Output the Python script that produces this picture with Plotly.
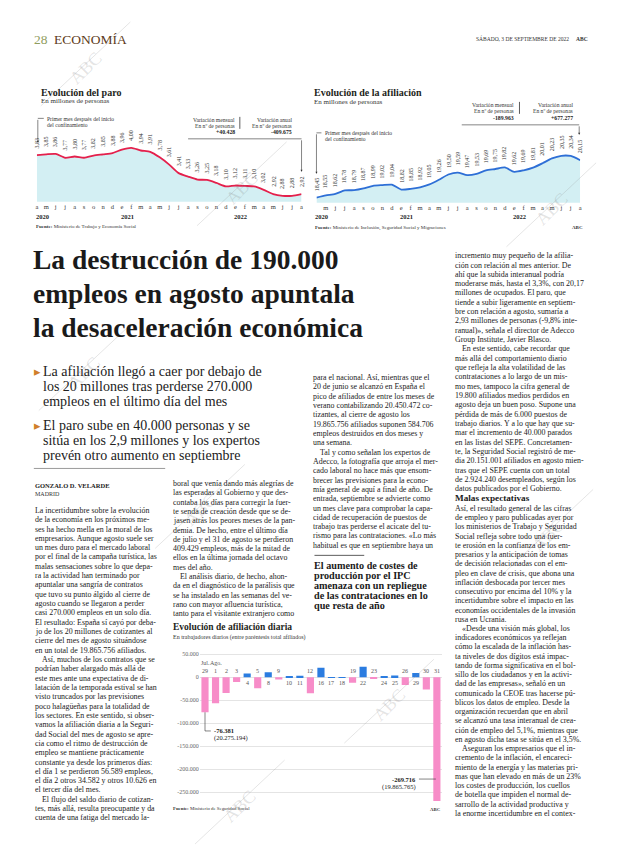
import plotly.graph_objects as go

W, H = 620, 846

# ---------------- DATA ----------------
paro_months = ["a", "m", "j", "j", "a", "s", "o", "n", "d", "e", "f", "m", "a", "m", "j",
               "j", "a", "s", "o", "n", "d", "e", "f", "m", "a", "m", "j", "j", "a"]
paro_values = [3.83, 3.85, 3.86, 3.77, 3.80, 3.77, 3.82, 3.85, 3.88, 3.96, 4.00, 3.94, 3.91,
               3.78, 3.61, 3.41, 3.33, 3.26, 3.25, 3.18, 3.10, 3.12, 3.11, 3.10, 3.02, 2.92,
               2.88, 2.88, 2.92]
afil_months = ["", "m", "j", "j", "a", "s", "o", "n", "d", "e", "f", "m", "a", "m", "j",
               "j", "a", "s", "o", "n", "d", "e", "f", "m", "a", "m", "j", "j", "a"]
afil_values = [18.45, 18.55, 18.62, 18.78, 18.79, 18.87, 18.99, 19.02, 19.04, 18.82, 18.85,
               18.92, 19.05, 19.26, 19.50, 19.59, 19.47, 19.53, 19.69, 19.75, 19.82, 19.62,
               19.69, 19.81, 20.01, 20.23, 20.35, 20.34, 20.15]
year_index = [0, 9, 21]
year_labels = ["2020", "2021", "2022"]

daily_days = ["29", "1", "2", "3", "4", "5", "8", "9", "10", "11", "12", "16", "17", "18",
              "19", "22", "23", "24", "25", "26", "29", "30", "31"]
daily_values = [-76381, -56589, -34582, -10626, 8000, -23900, 10900, -5000, 1500, 3000,
                -34800, 20300, 500, 400, -12300, 22500, -2500, 2000, 3500, -17000, 9000,
                -26800, -269716]
daily_ticks = [50000, 0, -50000, -100000, -150000, -200000, -250000]
daily_ticktext = ["50.000", "0", "-50.000", "-100.000", "-150.000", "-200.000", "-250.000"]

# ---------------- TEXT ----------------
col1 = [
    "La incertidumbre sobre la evolución",
    "de la economía en los próximos me-",
    "ses ha hecho mella en la moral de los",
    "empresarios. Aunque agosto suele ser",
    "un mes duro para el mercado laboral",
    "por el final de la campaña turística, las",
    "malas sensaciones sobre lo que depa-",
    "ra la actividad han terminado por",
    "apuntalar una sangría de contratos",
    "que tuvo su punto álgido al cierre de",
    "agosto cuando se llegaron a perder",
    "casi 270.000 empleos en un solo día.",
    "El resultado: España sí cayó por deba-",
    "jo de los 20 millones de cotizantes al",
    "cierre del mes de agosto situándose",
    "en un total de 19.865.756 afiliados.",
    ">Así, muchos de los contratos que se",
    "podrían haber alargado más allá de",
    "este mes ante una expectativa de di-",
    "latación de la temporada estival se han",
    "visto truncados por las previsiones",
    "poco halagüeñas para la totalidad de",
    "los sectores. En este sentido, si obser-",
    "vamos la afiliación diaria a la Seguri-",
    "dad Social del mes de agosto se apre-",
    "cia como el ritmo de destrucción de",
    "empleo se mantiene prácticamente",
    "constante ya desde los primeros días:",
    "el día 1 se perdieron 56.589 empleos,",
    "el día 2 otros 34.582 y otros 10.626 en",
    "el tercer día del mes.",
    ">El flujo del saldo diario de cotizan-",
    "tes, más allá, resulta preocupante y da",
    "cuenta de una fatiga del mercado la-",
]
col2 = [
    "boral que venía dando más alegrías de",
    "las esperadas al Gobierno y que des-",
    "contaba los días para corregir la fuer-",
    "te senda de creación desde que se de-",
    "jasen atrás los peores meses de la pan-",
    "demia. De hecho, entre el último día",
    "de julio y el 31 de agosto se perdieron",
    "409.429 empleos, más de la mitad de",
    "ellos en la última jornada del octavo",
    "mes del año.",
    ">El análisis diario, de hecho, ahon-",
    "da en el diagnóstico de la parálisis que",
    "se ha instalado en las semanas del ve-",
    "rano con mayor afluencia turística,",
    "tanto para el visitante extranjero como",
]
col3 = [
    "para el nacional. Así, mientras que el",
    "20 de junio se alcanzó en España el",
    "pico de afiliados de entre los meses de",
    "verano contabilizando 20.450.472 co-",
    "tizantes, al cierre de agosto los",
    "19.865.756 afiliados suponen 584.706",
    "empleos destruidos en dos meses y",
    "una semana.",
    ">Tal y como señalan los expertos de",
    "Adecco, la fotografía que arroja el mer-",
    "cado laboral no hace más que ensom-",
    "brecer las previsiones para la econo-",
    "mía general de aquí a final de año. De",
    "entrada, septiembre se advierte como",
    "un mes clave para comprobar la capa-",
    "cidad de recuperación de puestos de",
    "trabajo tras perderse el acicate del tu-",
    "rismo para las contrataciones. «Lo más",
    "habitual es que en septiembre haya un",
]
col4a = [
    "incremento muy pequeño de la afilia-",
    "ción con relación al mes anterior. De",
    "ahí que la subida interanual podría",
    "moderarse más, hasta el 3,3%, con 20,17",
    "millones de ocupados. El paro, que",
    "tiende a subir ligeramente en septiem-",
    "bre con relación a agosto, sumaría a",
    "2,93 millones de personas (-9,8% inte-",
    "ranual)», señala el director de Adecco",
    "Group Institute, Javier Blasco.",
    ">En este sentido, cabe recordar que",
    "más allá del comportamiento diario",
    "que refleja la alta volatilidad de las",
    "contrataciones a lo largo de un mis-",
    "mo mes, tampoco la cifra general de",
    "19.800 afiliados medios perdidos en",
    "agosto deja un buen poso. Supone una",
    "pérdida de más de 6.000 puestos de",
    "trabajo diarios. Y a lo que hay que su-",
    "mar el incremento de 40.000 parados",
    "en las listas del SEPE. Concretamen-",
    "te, la Seguridad Social registró de me-",
    "dia 20.151.001 afiliados en agosto mien-",
    "tras que el SEPE cuenta con un total",
    "de 2.924.240 desempleados, según los",
    "datos publicados por el Gobierno.",
]
col4b = [
    "Así, el resultado general de las cifras",
    "de empleo y paro publicadas ayer por",
    "los ministerios de Trabajo y Seguridad",
    "Social refleja sobre todo una fuer-",
    "te erosión en la confianza de los em-",
    "presarios y la anticipación de tomas",
    "de decisión relacionadas con el em-",
    "pleo en clave de crisis, que abona una",
    "inflación desbocada por tercer mes",
    "consecutivo por encima del 10% y la",
    "incertidumbre sobre el impacto en las",
    "economías occidentales de la invasión",
    "rusa en Ucrania.",
    ">«Desde una visión más global, los",
    "indicadores económicos ya reflejan",
    "cómo la escalada de la inflación has-",
    "ta niveles de dos dígitos está impac-",
    "tando de forma significativa en el bol-",
    "sillo de los ciudadanos y en la activi-",
    "dad de las empresas», señaló en un",
    "comunicado la CEOE tras hacerse pú-",
    "blicos los datos de empleo. Desde la",
    "organización recuerdan que en abril",
    "se alcanzó una tasa interanual de crea-",
    "ción de empleo del 5,1%, mientras que",
    "en agosto dicha tasa se sitúa en el 3,5%.",
    ">Aseguran los empresarios que el in-",
    "cremento de la inflación, el encareci-",
    "miento de la energía y las materias pri-",
    "mas que han elevado en más de un 23%",
    "los costes de producción, los cuellos",
    "de botella que impiden el normal de-",
    "sarrollo de la actividad productiva y",
    "la enorme incertidumbre en el contex-",
]
headline = ["La destrucción de 190.000", "empleos en agosto apuntala",
            "la desaceleración económica"]
sub1 = ["La afiliación llegó a caer por debajo de", "los 20 millones tras perderse 270.000",
        "empleos en el último día del mes"]
sub2 = ["El paro sube en 40.000 personas y se", "sitúa en los 2,9 millones y los expertos",
        "prevén otro aumento en septiembre"]
boxhead = ["El aumento de costes de", "producción por el IPC", "amenaza con un repliegue",
           "de las contrataciones en lo", "que resta de año"]

SERIF = "Liberation Serif, Times New Roman, serif"
INK = "#231f20"

fig = go.Figure()
ann = []
shapes = []


def px(x):
    return x / W


def py(y):
    return 1 - y / H


def txt(x, y, s, size=8, color=INK, xanchor="left", yanchor="middle", family=SERIF, angle=0):
    ann.append(dict(x=px(x), y=py(y), xref="paper", yref="paper", text=s, showarrow=False,
                    xanchor=xanchor, yanchor=yanchor, textangle=angle,
                    font=dict(family=family, size=size, color=color), borderpad=0))


def hline(x0, x1, y, color="#333", w=0.6):
    shapes.append(dict(type="line", xref="paper", yref="paper", x0=px(x0), x1=px(x1),
                       y0=py(y), y1=py(y), line=dict(color=color, width=w)))


def vline(x, y0, y1, color="#333", w=0.6):
    shapes.append(dict(type="line", xref="paper", yref="paper", x0=px(x), x1=px(x),
                       y0=py(y0), y1=py(y1), line=dict(color=color, width=w)))


def arrow_down(x, y0, y1):
    ann.append(dict(x=px(x), y=py(y1), xref="paper", yref="paper", ax=0, ay=-(y1 - y0),
                    axref="pixel", ayref="pixel", text="", showarrow=True, arrowhead=2,
                    arrowsize=0.7, arrowwidth=0.6, arrowcolor="#333"))


# ---------------- CHART 1: PARO ----------------
n1 = len(paro_values)
fig.add_trace(go.Scatter(x=list(range(n1)), y=paro_values, mode="lines", fill="tozeroy",
                         fillcolor="#d3eff3", line=dict(color="#e4204c", width=1.8,
                                                        shape="spline", smoothing=0.6),
                         xaxis="x", yaxis="y", hoverinfo="skip"))
for i, v in enumerate(paro_values):
    ann.append(dict(x=i, y=v, xref="x", yref="y", text=f"{v:.2f}".replace(".", ","),
                    showarrow=False, textangle=-90, yanchor="bottom", xanchor="center",
                    yshift=5, font=dict(family=SERIF, size=6, color="#333")))

# ---------------- CHART 2: AFILIACION ----------------
n2 = len(afil_values)
fig.add_trace(go.Scatter(x=list(range(n2)), y=afil_values, mode="lines", fill="tozeroy",
                         fillcolor="#d3eff3", line=dict(color="#2e6fd6", width=1.8,
                                                        shape="spline", smoothing=0.6),
                         xaxis="x2", yaxis="y2", hoverinfo="skip"))
for i, v in enumerate(afil_values):
    ann.append(dict(x=i, y=v, xref="x2", yref="y2", text=f"{v:.2f}".replace(".", ","),
                    showarrow=False, textangle=-90, yanchor="bottom", xanchor="center",
                    yshift=5, font=dict(family=SERIF, size=6, color="#333")))

for k, i in enumerate(year_index):
    ann.append(dict(x=i, y=py(216), xref="x", yref="paper", text=f"<b>{year_labels[k]}</b>",
                    showarrow=False, xanchor="left", yanchor="middle", xshift=-3,
                    font=dict(family=SERIF, size=6.5, color="#222")))
    ann.append(dict(x=i, y=py(216), xref="x2", yref="paper", text=f"<b>{year_labels[k]}</b>",
                    showarrow=False, xanchor="left", yanchor="middle", xshift=-3,
                    font=dict(family=SERIF, size=6.5, color="#222")))

# ---------------- CHART 3: DAILY ----------------
n3 = len(daily_values)
colors = ["#f78cc8" if v < 0 else "#2b7ce0" for v in daily_values]
fig.add_trace(go.Bar(x=list(range(n3)), y=daily_values, marker=dict(color=colors, line_width=0),
                     width=0.68, xaxis="x3", yaxis="y3", hoverinfo="skip"))
for i, (d, v) in enumerate(zip(daily_days, daily_values)):
    if v < 0:
        ann.append(dict(x=i, y=0, xref="x3", yref="y3", text=d, showarrow=False,
                        yanchor="bottom", yshift=1, font=dict(family=SERIF, size=6, color="#555")))
    else:
        ann.append(dict(x=i, y=0, xref="x3", yref="y3", text=d, showarrow=False,
                        yanchor="top", yshift=-1, font=dict(family=SERIF, size=6, color="#555")))
for i, s in [(0, "Jul."), (1, "Ago.")]:
    ann.append(dict(x=i, y=0, xref="x3", yref="y3", text=s, showarrow=False,
                    yanchor="bottom", yshift=9, font=dict(family=SERIF, size=6, color="#555")))

# leader for first bar
lab1_y = -117000
shapes.append(dict(type="line", xref="x3", yref="y3", x0=0, x1=0, y0=daily_values[0], y1=lab1_y,
                   line=dict(color="#333", width=0.6)))
shapes.append(dict(type="line", xref="x3", yref="y3", x0=0, x1=0.55, y0=lab1_y, y1=lab1_y,
                   line=dict(color="#333", width=0.6)))
ann.append(dict(x=0.7, y=lab1_y, xref="x3", yref="y3", text="<b>-76.381</b>", showarrow=False,
                xanchor="left", yanchor="middle", font=dict(family=SERIF, size=6.5, color="#222")))
ann.append(dict(x=0.7, y=lab1_y - 16000, xref="x3", yref="y3", text="(20.275.194)", showarrow=False,
                xanchor="left", yanchor="middle", font=dict(family=SERIF, size=6.5, color="#222")))
lab2_y = -221700
shapes.append(dict(type="line", xref="x3", yref="y3", x0=20.3, x1=21.9, y0=lab2_y, y1=lab2_y,
                   line=dict(color="#333", width=0.6)))
ann.append(dict(x=20.2, y=lab2_y, xref="x3", yref="y3", text="<b>-269.716</b>", showarrow=False,
                xanchor="right", yanchor="middle", font=dict(family=SERIF, size=6.5, color="#222")))
ann.append(dict(x=20.2, y=lab2_y - 16500, xref="x3", yref="y3", text="(19.865.765)", showarrow=False,
                xanchor="right", yanchor="middle", font=dict(family=SERIF, size=6.5, color="#222")))

# ---------------- HEADER ----------------
txt(32, 39, "28", 13.5, "#8f9d5e")
txt(52, 39, "ECONOMÍA", 13.5, "#5e3b20")
txt(572, 38, "SÁBADO, 3 DE SEPTIEMBRE DE 2022", 5.5, "#333", xanchor="right")
txt(577, 38, "<b>ABC</b>", 5.5, "#333")

# chart 1 texts
txt(39, 92, "<b>Evolución del paro</b>", 10, INK)
txt(39, 100, "En millones de personas", 7, "#333")
txt(45, 118, "Primer mes después del inicio", 5.6, "#333")
txt(45, 124.5, "del confinamiento", 5.6, "#333")
hline(37, 43, 117.5)
arrow_down(37, 117.5, 142)
txt(236, 119, "Variación mensual", 5.6, "#333", xanchor="right")
txt(236, 125, "En nº de personas", 5.6, "#333", xanchor="right")
txt(236, 131, "<b>+40.428</b>", 5.8, "#222", xanchor="right")
vline(240, 116, 128, "#333", 0.8)
txt(293, 119, "Variación anual", 5.6, "#333", xanchor="right")
txt(293, 125, "En nº de personas", 5.6, "#333", xanchor="right")
txt(293, 131, "<b>-409.675</b>", 5.8, "#222", xanchor="right")
hline(188, 302, 138)
arrow_down(302, 138, 171)
txt(34, 226, "<b>Fuente:</b> Ministerio de Trabajo y Economía Social", 5, "#333")

# chart 2 texts
txt(314, 92, "<b>Evolución de la afiliación</b>", 10, INK)
txt(314, 101, "En millones de personas", 7, "#333")
txt(325, 132, "Primer mes después del inicio", 5.6, "#333")
txt(325, 138.5, "del confinamiento", 5.6, "#333")
hline(317, 322, 132)
arrow_down(317, 132, 173)
txt(516, 104, "Variación mensual", 5.6, "#333", xanchor="right")
txt(516, 110.5, "En nº de personas", 5.6, "#333", xanchor="right")
txt(516, 117, "<b>-189.963</b>", 5.8, "#222", xanchor="right")
vline(521, 101, 113, "#333", 0.8)
txt(576, 104, "Variación anual", 5.6, "#333", xanchor="right")
txt(576, 110.5, "En nº de personas", 5.6, "#333", xanchor="right")
txt(576, 117, "<b>+677.277</b>", 5.8, "#222", xanchor="right")
hline(463, 581, 124)
arrow_down(581, 124, 134)
txt(315, 227, "<b>Fuente:</b> Ministerio de Inclusión, Seguridad Social y Migraciones", 5, "#333")
txt(586, 227, "<b>ABC</b>", 5, "#333", xanchor="right")

# headline
for k, s in enumerate(headline):
    txt(31, 259 + 34 * k, f"<b>{s}</b>", 27.5, "#1a1a1a")

# subheads
for block, y0 in [(sub1, 371), (sub2, 425)]:
    txt(32, y0, "▸", 13, "#d07f2c")
    for k, s in enumerate(block):
        txt(41, y0 + 14.9 * k, s, 14.0, "#222")

# author
hline(33, 165, 468, "#555", 0.6)
txt(33, 485, "<b>GONZALO D. VELARDE</b>", 6.5, "#222")
txt(33, 494, "MADRID", 6, "#333")

LH = 9.33
BODY = 7.9


def column(lines, x, y0, step=LH):
    for k, s in enumerate(lines):
        indent = 0
        if s.startswith(">"):
            s = s[1:]
            indent = 7
        txt(x + indent, y0 + step * k, s, BODY, "#222")


column(col1, 33, 510)
column(col2, 172, 483)
column(col3, 313, 377)
column(col4a, 455, 255)
txt(455, 498, "<b>Malas expectativas</b>", 9.2, "#1a1a1a")
column(col4b, 455, 508, 9.25)

# box heading
hline(315, 365, 555, "#333", 0.8)
for k, s in enumerate(boxhead):
    txt(314, 565 + 10 * k, f"<b>{s}</b>", 10.2, "#1a1a1a")

# chart 3 texts
txt(172, 627, "<b>Evolución de afiliación diaria</b>", 9.5, INK)
txt(172, 637, "En trabajadores diarios (entre paréntesis total afiliados)", 6, "#333")
txt(172, 808, "<b>Fuente:</b> Ministerio de Seguridad Social", 4.8, "#333")
txt(437, 809, "<b>ABC</b>", 4.8, "#333", xanchor="center")

# watermarks
for (cx, cy) in [(85, 67), (242, 187), (553, 208), (83, 372), (200, 510), (550, 535),
                 (390, 705), (240, 806)]:
    txt(cx, cy, "ABC", 18, "rgba(120,120,120,0.2)", xanchor="center", angle=-45,
        family="Liberation Serif")
    shapes.append(dict(type="line", xref="paper", yref="paper", x0=px(cx - 45), y0=py(cy + 38),
                       x1=px(cx + 45), y1=py(cy - 46),
                       line=dict(color="rgba(150,150,150,0.35)", width=0.7)))


def dxr(a, b):
    return [a / W, b / W]


def dyr(top, bottom):
    return [1 - bottom / H, 1 - top / H]


axis_off = dict(showgrid=False, zeroline=False, showline=False, fixedrange=True)
fig.update_layout(
    width=W, height=H, margin=dict(l=0, r=0, t=0, b=0), showlegend=False,
    paper_bgcolor="white", plot_bgcolor="white",
    xaxis=dict(domain=dxr(36, 302), range=[0, 28], tickvals=list(range(n1)), ticktext=paro_months,
               tickfont=dict(family=SERIF, size=6.5, color="#333"), ticks="", **axis_off),
    yaxis=dict(domain=dyr(130, 201), range=[2.74, 4.40], showticklabels=False, **axis_off),
    xaxis2=dict(domain=dxr(317, 582), range=[0, 28], tickvals=list(range(n2)), ticktext=afil_months,
                tickfont=dict(family=SERIF, size=6.5, color="#333"), ticks="", anchor="y2", **axis_off),
    yaxis2=dict(domain=dyr(130, 202), range=[18.22, 21.48], showticklabels=False, anchor="x2",
                **axis_off),
    xaxis3=dict(domain=dxr(199.7, 443.3), range=[-0.5, 22.5], showticklabels=False, anchor="y3",
                showgrid=False, zeroline=False, fixedrange=True),
    yaxis3=dict(domain=dyr(651.7, 803.5), range=[-275000, 55000], tickvals=daily_ticks,
                ticktext=daily_ticktext, tickfont=dict(family=SERIF, size=6, color="#666"),
                showgrid=True, gridcolor="#e4e4e4", gridwidth=0.6, zeroline=False, anchor="x3",
                fixedrange=True),
    annotations=ann, shapes=shapes,
)

fig.write_html("out.html", config={"displayModeBar": False},
               post_script="document.body.style.margin='0px';document.body.style.overflow='hidden';")
